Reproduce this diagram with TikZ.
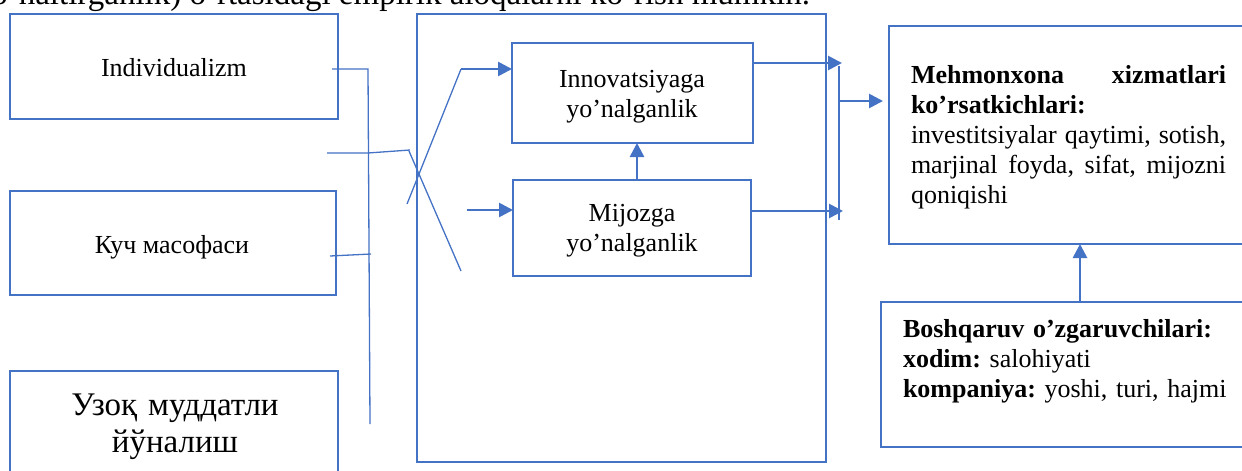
\documentclass[tikz,border=0pt]{standalone}
\usepackage{fontspec}
\setmainfont{Liberation Serif}
\usetikzlibrary{arrows.meta}
\definecolor{bl}{HTML}{4472C4}
\frenchspacing
\tikzset{
  box/.style={draw=bl, line width=2.7pt, inner sep=0pt, outer sep=0pt, anchor=north west},
  thinln/.style={draw=bl, line width=1.3pt},
  arr/.style={draw=bl, line width=2.7pt, -{Triangle[length=14pt,width=14pt]}},
  txt/.style={inner sep=0pt, outer sep=0pt, font=\fontsize{26}{30}\selectfont},
  bigtxt/.style={inner sep=0pt, outer sep=0pt, font=\fontsize{33}{37}\selectfont},
}
\begin{document}
\begin{tikzpicture}[x=1pt,y=-1pt]
\useasboundingbox (0,0) rectangle (1242,471);
\clip (0,0) rectangle (1242,471);
% clipped line of body text above the figure
\node[bigtxt, anchor=base east] (toptext) at (810,5) {yo’naltirganlik) o’rtasidagi empirik aloqalarni ko’rish mumkin.};
% boxes
\node[box, minimum width=328pt, minimum height=105pt] (ind) at (10,14) {};
\node[box, minimum width=326pt, minimum height=104pt] (kuch) at (10,191) {};
\node[box, minimum width=328pt, minimum height=130pt] (uzoq) at (10,371) {};
\node[box, minimum width=409pt, minimum height=448pt] (big) at (417,14) {};
\node[box, minimum width=241pt, minimum height=100pt] (inn) at (512,43) {};
\node[box, minimum width=238pt, minimum height=96pt] (mij) at (513,180) {};
\node[box, minimum width=380pt, minimum height=218pt] (meh) at (889,26) {};
\node[box, minimum width=390pt, minimum height=145pt] (bos) at (881,302) {};
% texts
\node[txt, anchor=base] (indt) at (174,76) {Individualizm};
\node[txt, anchor=base] (kucht) at (172,253) {Куч масофаси};
\node[bigtxt, text width=300pt, align=center, anchor=base] (uzt) at (175,415) {Узоқ муддатли\\йўналиш};
\node[txt, text width=240pt, align=center, anchor=base] (innt) at (632,87) {Innovatsiyaga\\yo’nalganlik};
\node[txt, text width=238pt, align=center, anchor=base] (mijt) at (632,221) {Mijozga\\yo’nalganlik};
\node[txt, text width=315pt, align=justify, anchor=base west] (meht) at (911,83)
  {\textbf{Mehmonxona xizmatlari\linebreak ko’rsatkichlari:}\\investitsiyalar qaytimi, sotish,\linebreak marjinal foyda, sifat, mijozni\linebreak qoniqishi};
\node[txt, text width=340pt, align=left, anchor=base west] (bost) at (903,337)
  {\textbf{Boshqaruv o’zgaruvchilari:}\\\textbf{xodim:} salohiyati\\\textbf{kompaniya:} yoshi, turi, hajmi};
% left connectors
\coordinate (i1) at (332,69); \coordinate (v1) at (368,69); \coordinate (v2) at (370,424);
\draw[thinln] (i1) -- (v1) -- (v2);
\coordinate (g1) at (327,153); \coordinate (g2) at (368,153); \coordinate (g3) at (410,150);
\draw[thinln] (g1) -- (g2) -- (g3);
\coordinate (k1) at (330,256); \coordinate (k2) at (371,254);
\draw[thinln] (k1) -- (k2);
\coordinate (d1) at (407,204); \coordinate (d2) at (461,69);
\draw[thinln] (d1) -- (d2);
\draw[arr] (d2) -- (d2 -| inn.west);
\coordinate (x1) at (409,151); \coordinate (x2) at (461,271);
\draw[thinln] (x1) -- (x2);
\coordinate (m1) at (467,210);
\draw[arr] (m1) -- (m1 -| mij.west);
\coordinate (u1) at (637,0);
\draw[arr] (u1 |- mij.north) -- (u1 |- inn.south);
% right connectors
\coordinate (r1) at (842,63);
\draw[arr] (r1 -| inn.east) -- (r1);
\coordinate (r2) at (843,211);
\draw[arr] (r2 -| mij.east) -- (r2);
\coordinate (s1) at (839,66); \coordinate (s2) at (839,220);
\draw[thinln] (s1) -- (s2);
\coordinate (t1) at (838,101); \coordinate (t2) at (883,101);
\draw[arr] (t1) -- (t2);
\coordinate (b1) at (1080,0);
\draw[arr] (b1 |- bos.north) -- (b1 |- meh.south);
\end{tikzpicture}
\end{document}
